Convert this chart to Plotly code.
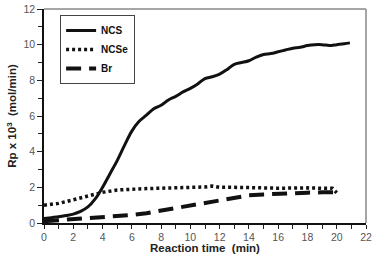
import plotly.graph_objects as go

t_ncs = [0, 0.5, 1, 1.5, 2, 2.5, 3, 3.5, 4, 4.5, 5, 5.5, 6, 6.5, 7, 7.5, 8, 8.5, 9, 9.5, 10,
         10.5, 11, 11.5, 12, 12.5, 13, 13.5, 14, 14.5, 15, 15.5, 16, 16.5, 17, 17.5, 18,
         18.5, 19, 19.5, 20, 20.5, 20.9]
v_ncs = [0.25, 0.3, 0.35, 0.42, 0.5, 0.65, 0.9, 1.35, 2.0, 2.75, 3.5, 4.35, 5.15, 5.7,
         6.05, 6.4, 6.6, 6.9, 7.1, 7.35, 7.55, 7.8, 8.1, 8.2, 8.35, 8.6, 8.9, 9.0, 9.1,
         9.3, 9.45, 9.5, 9.6, 9.7, 9.8, 9.85, 9.95, 10.0, 10.0, 9.95, 10.0, 10.05, 10.1]

t_ncse = [0, 1, 2, 3, 4, 5, 6, 7, 8, 9, 10, 11, 11.5, 12, 13, 14, 15, 16, 17, 18, 19, 19.7, 20]
v_ncse = [1.0, 1.1, 1.3, 1.5, 1.72, 1.85, 1.9, 1.93, 1.95, 1.97, 2.0, 2.02, 2.07, 2.0,
          2.0, 2.0, 1.97, 1.95, 1.97, 1.97, 1.95, 1.95, 1.7]

t_br = [0, 1, 2, 3, 4, 5, 6, 7, 8, 9, 10, 11, 12, 13, 14, 15, 16, 17, 18, 19, 20]
v_br = [0.1, 0.15, 0.2, 0.25, 0.3, 0.38, 0.45, 0.55, 0.7, 0.85, 1.0, 1.15, 1.3, 1.45,
        1.55, 1.6, 1.65, 1.68, 1.7, 1.72, 1.72]

x_ticks = list(range(0, 23, 2))
y_ticks = list(range(0, 13, 2))

fig = go.Figure()
fig.add_trace(go.Scatter(x=t_ncs, y=v_ncs, mode="lines", name="NCS",
                         line=dict(color="#111111", width=3, shape="spline")))
fig.add_trace(go.Scatter(x=t_ncse, y=v_ncse, mode="lines", name="NCSe",
                         line=dict(color="#111111", width=3.5, dash="3px,3px")))
fig.add_trace(go.Scatter(x=t_br, y=v_br, mode="lines", name="Br",
                         line=dict(color="#111111", width=4, dash="15px,8px")))

axis_common = dict(
    ticks="outside", tickwidth=1, tickcolor="#222", automargin=False,
    showgrid=False, zeroline=False, showline=True, linecolor="#111", linewidth=1.5,
    tickfont=dict(family="Liberation Sans, Arial", size=10.5, color="#555"),
)

fig.update_xaxes(range=[0, 22], tickvals=x_ticks, ticktext=[str(v) for v in x_ticks],
                 ticklen=4, ticklabelstandoff=0,
                 minor=dict(dtick=1, ticks="outside", ticklen=4, tickcolor="#222"),
                 title=dict(text="<b>Reaction time  (min)</b>", standoff=4,
                            font=dict(family="Liberation Sans, Arial", size=11.5, color="#222")),
                 **axis_common)
fig.update_yaxes(range=[0, 12], tickvals=y_ticks, ticktext=[str(v) for v in y_ticks],
                 ticklen=5,
                 minor=dict(dtick=1, ticks="outside", ticklen=4, tickcolor="#222"),
                 title=dict(text="<b>Rp x 10<sup>3</sup>  (mol/min)</b>", standoff=4,
                            font=dict(family="Liberation Sans, Arial", size=11.5, color="#222")),
                 **axis_common)

# gray top/right frame
fig.add_shape(type="line", xref="paper", yref="paper", x0=0, x1=1, y0=1, y1=1,
              line=dict(color="#888", width=1.5))
fig.add_shape(type="line", xref="paper", yref="paper", x0=1, x1=1, y0=0, y1=1,
              line=dict(color="#888", width=1.5))

fig.update_layout(
    width=376, height=254,
    margin=dict(l=44, r=10, t=9, b=31, autoexpand=False),
    plot_bgcolor="white", paper_bgcolor="white",
    showlegend=True,
    legend=dict(x=0.05, y=0.972, xanchor="left", yanchor="top",
                bordercolor="#444", borderwidth=1, bgcolor="white",
                font=dict(family="Liberation Sans, Arial", size=10, color="#111", weight="bold"),
                tracegroupgap=0, itemwidth=30),
)

fig.write_html("out.html", config={"displayModeBar": False},
               post_script="document.body.style.margin='0';document.body.style.overflow='hidden';")
